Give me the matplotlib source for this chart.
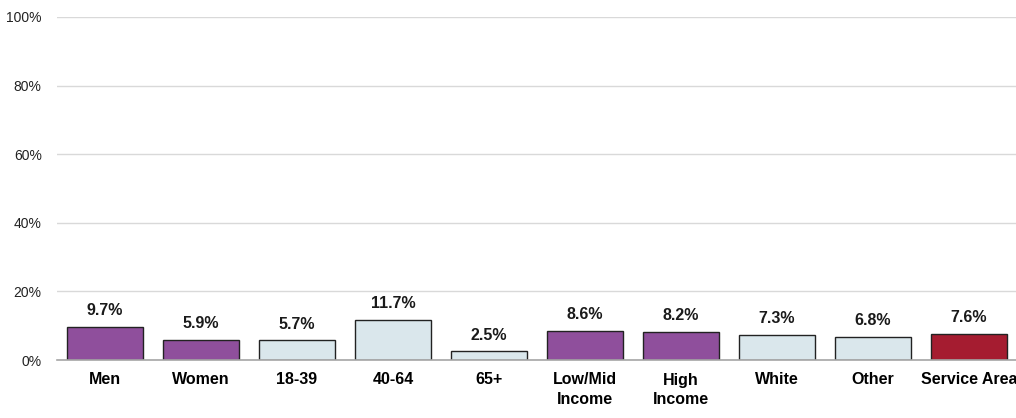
import matplotlib.pyplot as plt
import numpy as np

# Data
categories = ['Men', 'Women', '18-39', '40-64', '65+', 'Low/Mid\nIncome',
              'High\nIncome', 'White', 'Other', 'Service Area']
values = [9.7, 5.9, 5.7, 11.7, 2.5, 8.6, 8.2, 7.3, 6.8, 7.6]
groups = ['sex', 'sex', 'age', 'age', 'age', 'income', 'income',
          'race', 'race', 'total']
yticks = [0, 20, 40, 60, 80, 100]

group_colors = {'sex': '#8F4F9C', 'age': '#DAE7EC', 'income': '#8F4F9C',
                'race': '#DAE7EC', 'total': '#A51C30'}
colors = [group_colors[g] for g in groups]

plt.rcParams['font.family'] = ['Liberation Sans', 'DejaVu Sans']

fig = plt.figure(figsize=(10.16, 4.18), dpi=100)
ax = fig.add_axes([57 / 1016, 58 / 418, 960 / 1016, 343 / 418])

x = np.arange(len(categories))
ax.bar(x, values, width=0.79, color=colors, edgecolor='#222222',
       linewidth=1.0, zorder=3)

# Value labels above bars
for xi, v in zip(x, values):
    ax.text(xi, v + 2.6, f'{v:.1f}%', ha='center', va='bottom',
            fontsize=11.5, fontweight='bold', color='#1a1a1a')

ax.set_xlim(-0.5, len(categories) - 0.5)
ax.set_ylim(0, 100)
ax.set_yticks(yticks)
ax.set_yticklabels([f'{t}%' for t in yticks], fontsize=10, color='#222222')
ax.set_xticks(x)
ax.set_xticklabels(categories, fontsize=11.5, fontweight='bold', va='top',
                   linespacing=1.35)
ax.tick_params(axis='both', length=0)
ax.tick_params(axis='x', pad=9)
ax.tick_params(axis='y', pad=11)

ax.grid(axis='y', color='#D9D9D9', linewidth=1.0, zorder=0)
for s in ['top', 'right', 'left']:
    ax.spines[s].set_visible(False)
ax.spines['bottom'].set_color('#A6A6A6')
ax.spines['bottom'].set_linewidth(1.2)
ax.spines['bottom'].set_zorder(4)

fig.savefig('out.png', dpi=100)
